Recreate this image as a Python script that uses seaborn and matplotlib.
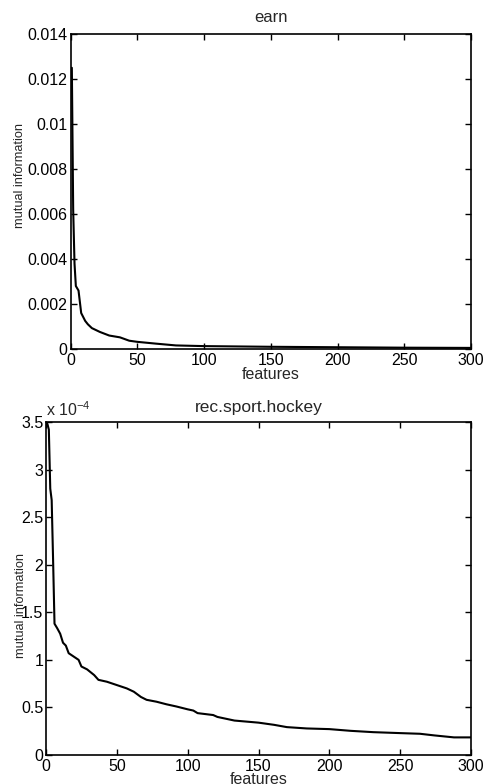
import matplotlib
matplotlib.use("Agg")
import matplotlib.pyplot as plt
import seaborn as sns

# valeurs (information mutuelle triee)
earn_x = [1, 2, 3, 4, 6, 7, 8, 11, 13, 16, 22, 29, 37, 44, 50, 64, 79, 100, 150, 200, 250, 300]
earn_y = [0.0125, 0.0062, 0.0038, 0.0028, 0.0026, 0.0021, 0.0016, 0.00125, 0.0011, 0.00093,
          0.00076, 0.0006, 0.00052, 0.00037, 0.00032, 0.00024, 0.00016, 0.00013, 0.0001,
          0.00008, 0.00006, 0.00005]

hockey_x = [1, 2, 3, 4, 5, 6, 8, 10, 12, 14, 16, 19, 23, 25, 29, 34, 37, 43, 50, 57, 62, 67,
            71, 78, 85, 92, 100, 104, 107, 118, 121, 133, 150, 161, 170, 184, 200, 215, 231,
            250, 264, 274, 288, 300]
hockey_y = [3.48, 3.42, 2.8, 2.68, 2.05, 1.38, 1.33, 1.275, 1.18, 1.15, 1.07, 1.04, 1.0, 0.93,
            0.90, 0.84, 0.79, 0.77, 0.735, 0.70, 0.665, 0.61, 0.58, 0.56, 0.533, 0.51, 0.48,
            0.467, 0.44, 0.42, 0.40, 0.362, 0.34, 0.317, 0.293, 0.279, 0.272, 0.254, 0.24,
            0.23, 0.223, 0.206, 0.185, 0.185]

x_ticks = [0, 50, 100, 150, 200, 250, 300]
earn_yticks = [0, 0.002, 0.004, 0.006, 0.008, 0.01, 0.012, 0.014]
earn_ylabels = ["0", "0.002", "0.004", "0.006", "0.008", "0.01", "0.012", "0.014"]
hockey_yticks = [0, 0.5, 1, 1.5, 2, 2.5, 3, 3.5]
hockey_ylabels = ["0", "0.5", "1", "1.5", "2", "2.5", "3", "3.5"]

sns.set_style("ticks")
plt.rcParams["font.family"] = ["Liberation Sans", "DejaVu Sans"]
plt.rcParams["mathtext.default"] = "regular"
plt.rcParams["axes.linewidth"] = 1.2

fig = plt.figure(figsize=(4.91, 7.84), dpi=100)
ax1 = fig.add_axes([0.1436, 0.5548, 0.8157, 0.4018])
ax2 = fig.add_axes([0.0937, 0.037, 0.8656, 0.4247])

sns.lineplot(x=earn_x, y=earn_y, ax=ax1, color="black", linewidth=1.5)
sns.lineplot(x=hockey_x, y=hockey_y, ax=ax2, color="black", linewidth=1.5)

for ax in (ax1, ax2):
    ax.set_xlim(0, 300)
    ax.set_xticks(x_ticks)
    ax.tick_params(direction="in", top=True, right=True, length=4, width=1,
                   labelsize=11.5, colors="black")
    ax.tick_params(axis="x", pad=3)
    ax.tick_params(axis="y", pad=2)
    for s in ax.spines.values():
        s.set_color("black")
    ax.set_xlabel("features", fontsize=11.5)
    ax.set_ylabel("mutual information", fontsize=9.2)

ax1.set_ylim(0, 0.014)
ax1.set_yticks(earn_yticks)
ax1.set_yticklabels(earn_ylabels)
ax1.set_title("earn", fontsize=12, pad=9)
ax1.xaxis.set_label_coords(0.5, -0.057)
ax1.yaxis.set_label_coords(-0.112, 0.55)

ax2.set_ylim(0, 3.5)
ax2.set_yticks(hockey_yticks)
ax2.set_yticklabels(hockey_ylabels)
ax2.set_title("rec.sport.hockey", fontsize=12.5, pad=7)
ax2.xaxis.set_label_coords(0.5, -0.051)
ax2.yaxis.set_label_coords(-0.045, 0.45)
ax2.text(0.0, 1.008, "x 10$^{-4}$", transform=ax2.transAxes, ha="left", va="bottom",
         fontsize=11.5)

fig.savefig("out.png", dpi=100)
